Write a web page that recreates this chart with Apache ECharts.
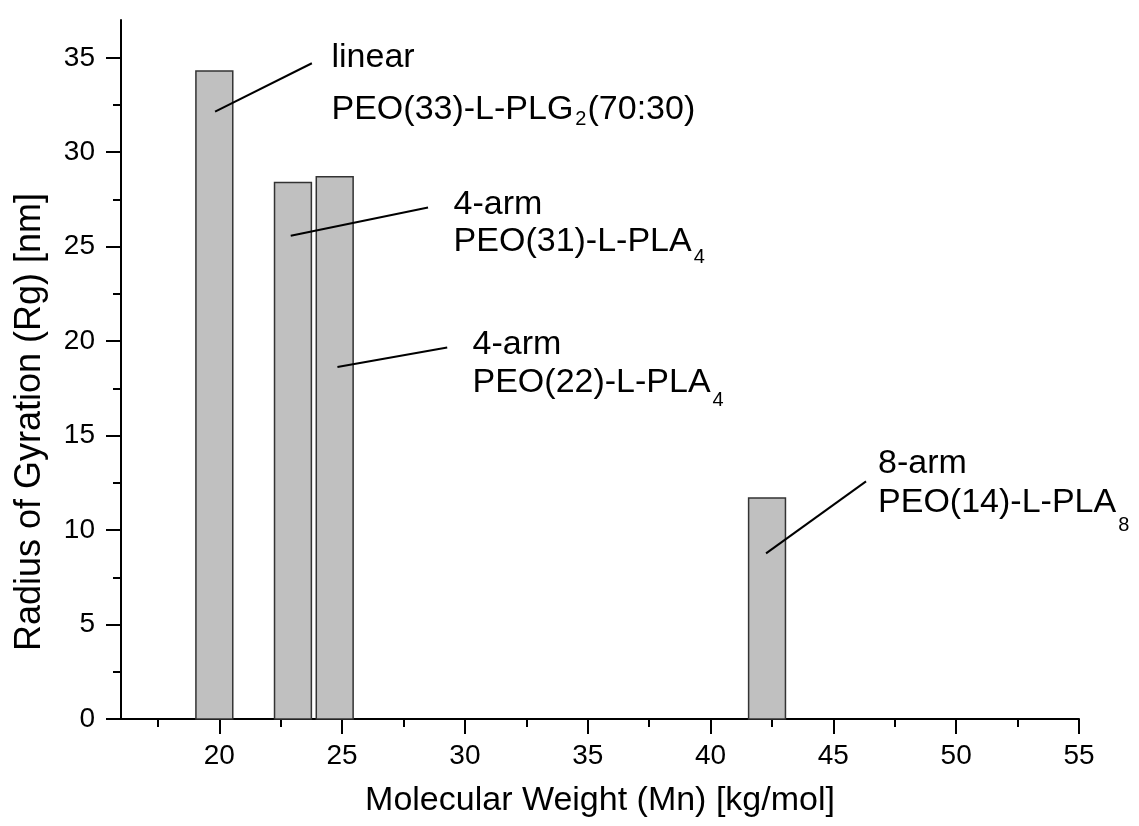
<!DOCTYPE html>
<html>
<head>
<meta charset="utf-8">
<title>Radius of Gyration vs Molecular Weight</title>
<script src="https://cdn.jsdelivr.net/npm/echarts@6.0.0/dist/echarts.min.js"></script>
<style>
  html, body { margin: 0; padding: 0; background: #fff; }
  #chart { width: 1139px; height: 826px; }
</style>
</head>
<body>
<div id="chart"></div>
<script>
// Molecular weight Mn (kg/mol) of each polymer and its radius of gyration Rg (nm)
const molecularWeight = [19.8, 23.0, 24.7, 42.3];
const radiusOfGyration = [34.3, 28.4, 28.7, 11.7];

// Tick values of both axes
const xMajorTicks = [20, 25, 30, 35, 40, 45, 50, 55];
const xMinorTicks = [17.5, 22.5, 27.5, 32.5, 37.5, 42.5, 47.5, 52.5];
const yMajorTicks = [0, 5, 10, 15, 20, 25, 30, 35];
const yMinorTicks = [2.5, 7.5, 12.5, 17.5, 22.5, 27.5, 32.5];

// Polymer names: architecture, then formula as [before subscript, subscript, after subscript]
const architectures = ['linear', '4-arm', '4-arm', '8-arm'];
const formulas = [
  ['PEO(33)-L-PLG', '2', '(70:30)'],
  ['PEO(31)-L-PLA', '4', ''],
  ['PEO(22)-L-PLA', '4', ''],
  ['PEO(14)-L-PLA', '8', '']
];

// Name placement in axis units: [left x, centre y of first line, centre y of second line]
const nameAnchors = [
  [24.57, 35.02, 32.24],
  [29.54, 27.24, 25.25],
  [30.31, 19.80, 17.81],
  [46.82, 13.50, 11.43]
];
// Drop of each subscript below its line centre, in px
const subscriptDrop = [10, 16, 18, 22];

// Leader lines from each bar to its name, in axis units: [x1, y1, x2, y2]
const leaders = [
  [19.83, 32.15, 23.77, 34.71],
  [22.91, 25.58, 28.50, 27.07],
  [24.81, 18.63, 29.28, 19.66],
  [42.26, 8.77, 46.33, 12.58]
];

const FONT_FAMILY = '"Liberation Sans", Arial, Helvetica, sans-serif';
const NAME_SIZE = 34;
const SUB_SIZE = 20;
const BAR_WIDTH = 1.5;    // bar width in kg/mol

const measureCtx = document.createElement('canvas').getContext('2d');
function textWidth(str, size) {
  measureCtx.font = size + 'px ' + FONT_FAMILY;
  return measureCtx.measureText(str).width;
}

function textEl(str, x, y, size) {
  return {
    type: 'text',
    x: x,
    y: y,
    style: {
      text: str,
      font: size + 'px ' + FONT_FAMILY,
      fill: '#000',
      textFill: '#000',
      textAlign: 'left',
      align: 'left',
      textVerticalAlign: 'middle',
      verticalAlign: 'middle'
    }
  };
}

const axisFont = { color: '#000', fontFamily: FONT_FAMILY, fontSize: 28 };
const axisLine = { show: true, lineStyle: { color: '#000', width: 2 } };

const option = {
  backgroundColor: '#fff',
  animation: false,
  grid: { left: 121, right: 60, top: 20, bottom: 107, containLabel: false },
  xAxis: [
    {
      type: 'value',
      min: 16,
      max: 55,
      position: 'bottom',
      axisLine: axisLine,
      splitLine: { show: false },
      axisTick: { show: true, inside: false, length: 15, customValues: xMajorTicks, lineStyle: { color: '#000', width: 2 } },
      axisLabel: { show: true, margin: 23, customValues: xMajorTicks, ...axisFont },
      name: 'Molecular Weight (Mn) [kg/mol]',
      nameLocation: 'middle',
      nameGap: 65,
      nameTextStyle: { color: '#000', fontFamily: FONT_FAMILY, fontSize: 34 }
    },
    {
      type: 'value',
      min: 16,
      max: 55,
      position: 'bottom',
      axisLine: { show: false },
      splitLine: { show: false },
      axisTick: { show: true, inside: false, length: 8, customValues: xMinorTicks, lineStyle: { color: '#000', width: 2 } },
      axisLabel: { show: false }
    }
  ],
  yAxis: [
    {
      type: 'value',
      min: 0,
      max: 37,
      position: 'left',
      axisLine: axisLine,
      splitLine: { show: false },
      axisTick: { show: true, inside: false, length: 15, customValues: yMajorTicks, lineStyle: { color: '#000', width: 2 } },
      axisLabel: { show: true, margin: 26, customValues: yMajorTicks, ...axisFont }
    },
    {
      type: 'value',
      min: 0,
      max: 37,
      position: 'left',
      axisLine: { show: false },
      splitLine: { show: false },
      axisTick: { show: true, inside: false, length: 8, customValues: yMinorTicks, lineStyle: { color: '#000', width: 2 } },
      axisLabel: { show: false }
    }
  ],
  graphic: [
    {
      type: 'text',
      x: 30,
      y: 422,
      rotation: Math.PI / 2,
      style: {
        text: 'Radius of Gyration (Rg) [nm]',
        font: '36px ' + FONT_FAMILY,
        fill: '#000',
        textAlign: 'center',
        align: 'center',
        textVerticalAlign: 'middle',
        verticalAlign: 'middle'
      }
    }
  ],
  series: [
    {
      // grey bars, centred on each molecular weight
      type: 'custom',
      xAxisIndex: 0,
      yAxisIndex: 0,
      data: molecularWeight.map((mw, i) => [mw, radiusOfGyration[i]]),
      renderItem: function (params, api) {
        const x = api.value(0);
        const h = api.value(1);
        const topLeft = api.coord([x - BAR_WIDTH / 2, h]);
        const bottomRight = api.coord([x + BAR_WIDTH / 2, 0]);
        return {
          type: 'rect',
          shape: {
            x: topLeft[0],
            y: topLeft[1],
            width: bottomRight[0] - topLeft[0],
            height: bottomRight[1] - topLeft[1]
          },
          style: { fill: '#c0c0c0', stroke: '#333', lineWidth: 1.5 }
        };
      },
      z: 2
    },
    {
      // leader lines
      type: 'custom',
      xAxisIndex: 0,
      yAxisIndex: 0,
      data: leaders,
      renderItem: function (params, api) {
        const a = api.coord([api.value(0), api.value(1)]);
        const b = api.coord([api.value(2), api.value(3)]);
        return {
          type: 'line',
          shape: { x1: a[0], y1: a[1], x2: b[0], y2: b[1] },
          style: { stroke: '#000', lineWidth: 2 }
        };
      },
      z: 3
    },
    {
      // polymer names with subscripted arm counts
      type: 'custom',
      xAxisIndex: 0,
      yAxisIndex: 0,
      data: nameAnchors.map((a, i) => [a[0], a[1], a[2], i]),
      renderItem: function (params, api) {
        const i = api.value(3);
        const first = api.coord([api.value(0), api.value(1)]);
        const second = api.coord([api.value(0), api.value(2)]);
        const f = formulas[i];
        const w0 = textWidth(f[0], NAME_SIZE);
        const ws = textWidth(f[1], SUB_SIZE);
        const children = [
          textEl(architectures[i], first[0], first[1], NAME_SIZE),
          textEl(f[0], second[0], second[1], NAME_SIZE),
          textEl(f[1], second[0] + w0 + 2, second[1] + subscriptDrop[i], SUB_SIZE)
        ];
        if (f[2]) {
          children.push(textEl(f[2], second[0] + w0 + ws + 3, second[1], NAME_SIZE));
        }
        return { type: 'group', children: children };
      },
      z: 4
    }
  ]
};

const chart = echarts.init(document.getElementById('chart'), null, { renderer: 'canvas' });
chart.setOption(option);
</script>
</body>
</html>
